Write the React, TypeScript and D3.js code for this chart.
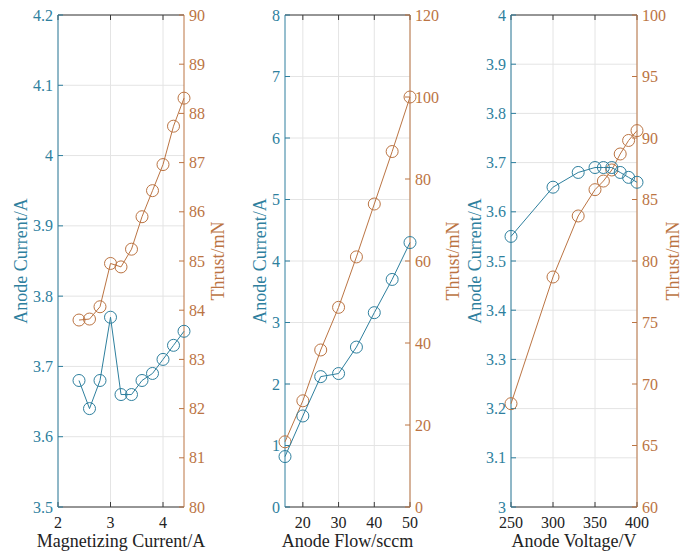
import React from 'react';
import * as d3 from 'd3';

// Panel 1: magnetizing current sweep
const magCurrent = [2.4, 2.6, 2.8, 3.0, 3.2, 3.4, 3.6, 3.8, 4.0, 4.2, 4.4];
const magAnodeCurrent = [3.68, 3.64, 3.68, 3.77, 3.66, 3.66, 3.68, 3.69, 3.71, 3.73, 3.75];
const magThrust = [83.8, 83.82, 84.07, 84.95, 84.88, 85.24, 85.9, 86.43, 86.96, 87.74, 88.31];

// Panel 2: anode flow sweep
const anodeFlow = [15, 20, 25, 30, 35, 40, 45, 50];
const flowAnodeCurrent = [0.82, 1.48, 2.12, 2.17, 2.6, 3.16, 3.7, 4.3];
const flowThrust = [15.9, 25.9, 38.3, 48.7, 61, 73.9, 86.7, 100];

// Panel 3: anode voltage sweep
const anodeVoltage = [250, 300, 330, 350, 360, 370, 380, 390, 400];
const voltAnodeCurrent = [3.55, 3.65, 3.68, 3.69, 3.69, 3.69, 3.68, 3.67, 3.66];
const voltThrust = [68.4, 78.7, 83.66, 85.8, 86.5, 87.4, 88.7, 89.8, 90.6];

const xTicks1 = [2, 3, 4];
const xTicks2 = [20, 30, 40, 50];
const xTicks3 = [250, 300, 350, 400];
const leftTicks1 = [3.5, 3.6, 3.7, 3.8, 3.9, 4.0, 4.1, 4.2];
const rightTicks1 = [80, 81, 82, 83, 84, 85, 86, 87, 88, 89, 90];
const leftTicks2 = [0, 1, 2, 3, 4, 5, 6, 7, 8];
const rightTicks2 = [0, 20, 40, 60, 80, 100, 120];
const leftTicks3 = [3, 3.1, 3.2, 3.3, 3.4, 3.5, 3.6, 3.7, 3.8, 3.9, 4];
const rightTicks3 = [60, 65, 70, 75, 80, 85, 90, 95, 100];

const BLUE = '#2e7f9e';
const ORANGE = '#bb7443';
const AXIS = '#3a3a3a';
const GRID = '#e4e4e4';
const FONT = 'Liberation Serif, DejaVu Serif, serif';

const TOP = 15;
const BOTTOM = 507;

interface PanelProps {
  x0: number;
  x1: number;
  xs: number[];
  current: number[];
  thrust: number[];
  xDomain: [number, number];
  xTicks: number[];
  leftDomain: [number, number];
  leftTicks: number[];
  rightDomain: [number, number];
  rightTicks: number[];
  xLabel: string;
  leftLabelX: number;
  rightLabelX: number;
}

const fmt = (v: number) => String(+v.toFixed(2));

const Panel: React.FC<PanelProps> = (p) => {
  const x = d3.scaleLinear().domain(p.xDomain).range([p.x0, p.x1]);
  const yL = d3.scaleLinear().domain(p.leftDomain).range([BOTTOM, TOP]);
  const yR = d3.scaleLinear().domain(p.rightDomain).range([BOTTOM, TOP]);

  const lineL = d3.line<number>().x((_, i) => x(p.xs[i])).y(d => yL(d));
  const lineR = d3.line<number>().x((_, i) => x(p.xs[i])).y(d => yR(d));
  const midY = (TOP + BOTTOM) / 2;
  const tick = 5;

  return (
    <g>
      {/* grid */}
      {p.xTicks.map(t => (
        <line key={`gx${t}`} x1={x(t)} x2={x(t)} y1={TOP} y2={BOTTOM} stroke={GRID} strokeWidth={1} />
      ))}
      {p.leftTicks.map(t => (
        <line key={`gy${t}`} x1={p.x0} x2={p.x1} y1={yL(t)} y2={yL(t)} stroke={GRID} strokeWidth={1} />
      ))}

      {/* x axes: bottom and top */}
      <line x1={p.x0} x2={p.x1} y1={BOTTOM} y2={BOTTOM} stroke={AXIS} strokeWidth={1} />
      <line x1={p.x0} x2={p.x1} y1={TOP} y2={TOP} stroke={AXIS} strokeWidth={1} />
      {p.xTicks.map(t => (
        <g key={`xt${t}`}>
          <line x1={x(t)} x2={x(t)} y1={BOTTOM} y2={BOTTOM - tick} stroke={AXIS} />
          <line x1={x(t)} x2={x(t)} y1={TOP} y2={TOP + tick} stroke={AXIS} />
          <text x={x(t)} y={BOTTOM + 21} textAnchor="middle" fontSize={16} fill="#222" fontFamily={FONT}>
            {fmt(t)}
          </text>
        </g>
      ))}
      <text x={(p.x0 + p.x1) / 2} y={BOTTOM + 40} textAnchor="middle" fontSize={18} fill="#222" fontFamily={FONT}>
        {p.xLabel}
      </text>

      {/* left axis */}
      <line x1={p.x0} x2={p.x0} y1={TOP} y2={BOTTOM} stroke={BLUE} strokeWidth={1} />
      {p.leftTicks.map(t => (
        <g key={`lt${t}`}>
          <line x1={p.x0} x2={p.x0 + tick} y1={yL(t)} y2={yL(t)} stroke={BLUE} />
          <text x={p.x0 - 5} y={yL(t)} dy="0.35em" textAnchor="end" fontSize={16} fill={BLUE} fontFamily={FONT}>
            {fmt(t)}
          </text>
        </g>
      ))}
      <text
        transform={`translate(${p.leftLabelX},${midY}) rotate(-90)`}
        textAnchor="middle"
        dy="0.35em"
        fontSize={18}
        fill={BLUE}
        fontFamily={FONT}
      >
        Anode Current/A
      </text>

      {/* right axis */}
      <line x1={p.x1} x2={p.x1} y1={TOP} y2={BOTTOM} stroke={ORANGE} strokeWidth={1} />
      {p.rightTicks.map(t => (
        <g key={`rt${t}`}>
          <line x1={p.x1} x2={p.x1 - tick} y1={yR(t)} y2={yR(t)} stroke={ORANGE} />
          <text x={p.x1 + 5} y={yR(t)} dy="0.35em" textAnchor="start" fontSize={16} fill={ORANGE} fontFamily={FONT}>
            {fmt(t)}
          </text>
        </g>
      ))}
      <text
        transform={`translate(${p.rightLabelX},${midY}) rotate(-90)`}
        textAnchor="middle"
        dy="0.35em"
        fontSize={18}
        fill={ORANGE}
        fontFamily={FONT}
      >
        Thrust/mN
      </text>

      {/* series */}
      <path d={lineR(p.thrust) || ''} fill="none" stroke={ORANGE} strokeWidth={1} />
      {p.thrust.map((v, i) => (
        <circle key={`cr${i}`} cx={x(p.xs[i])} cy={yR(v)} r={6} fill="none" stroke={ORANGE} strokeWidth={1} />
      ))}
      <path d={lineL(p.current) || ''} fill="none" stroke={BLUE} strokeWidth={1} />
      {p.current.map((v, i) => (
        <circle key={`cl${i}`} cx={x(p.xs[i])} cy={yL(v)} r={6} fill="none" stroke={BLUE} strokeWidth={1} />
      ))}
    </g>
  );
};

export default function App() {
  return (
    <svg
      width={683}
      height={553}
      style={{ position: 'absolute', left: 0, top: 0, background: '#fff' }}
    >
      <rect width={683} height={553} fill="#fff" />
      <Panel
        x0={58} x1={184}
        xs={magCurrent} current={magAnodeCurrent} thrust={magThrust}
        xDomain={[2, 4.4]} xTicks={xTicks1}
        leftDomain={[3.5, 4.2]} leftTicks={leftTicks1}
        rightDomain={[80, 90]} rightTicks={rightTicks1}
        xLabel="Magnetizing Current/A"
        leftLabelX={21} rightLabelX={218}
      />
      <Panel
        x0={285} x1={410}
        xs={anodeFlow} current={flowAnodeCurrent} thrust={flowThrust}
        xDomain={[15, 50]} xTicks={xTicks2}
        leftDomain={[0, 8]} leftTicks={leftTicks2}
        rightDomain={[0, 120]} rightTicks={rightTicks2}
        xLabel="Anode Flow/sccm"
        leftLabelX={260} rightLabelX={453}
      />
      <Panel
        x0={511} x1={637}
        xs={anodeVoltage} current={voltAnodeCurrent} thrust={voltThrust}
        xDomain={[250, 400]} xTicks={xTicks3}
        leftDomain={[3, 4]} leftTicks={leftTicks3}
        rightDomain={[60, 100]} rightTicks={rightTicks3}
        xLabel="Anode Voltage/V"
        leftLabelX={475} rightLabelX={673}
      />
    </svg>
  );
}
